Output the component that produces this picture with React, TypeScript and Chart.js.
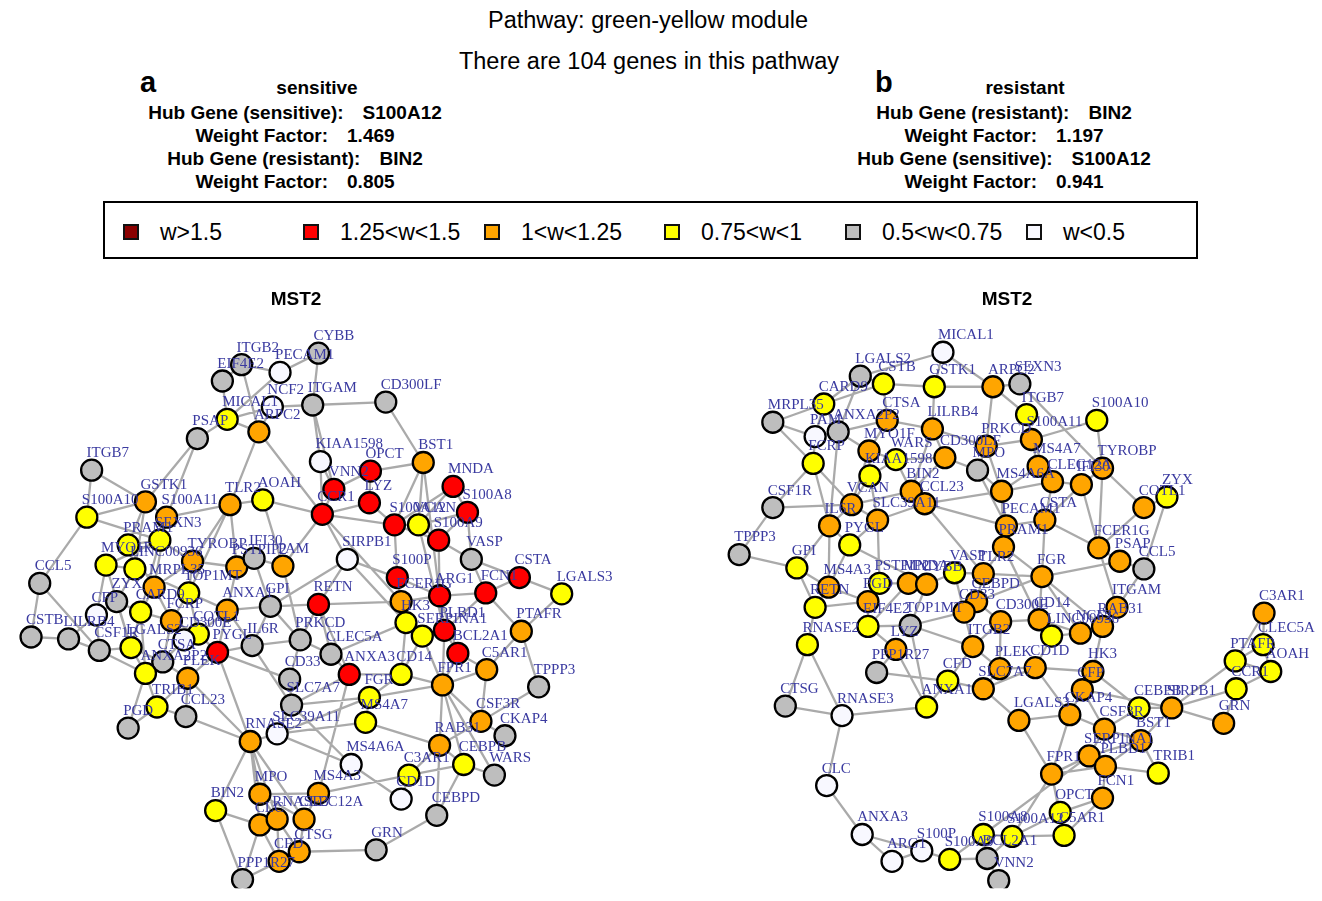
import React, { useEffect, useRef } from "react";
import { Chart, registerables } from "chart.js";

Chart.register(...registerables);

// ---------------- data ----------------
const PAGE_TITLE = "Pathway: green-yellow module";
const PAGE_SUBTITLE = "There are 104 genes in this pathway";
const NETWORK_TITLE = "MST2";

const LEGEND_LABELS = ["w>1.5", "1.25<w<1.5", "1<w<1.25", "0.75<w<1", "0.5<w<0.75", "w<0.5"];
// weight class -> colour (0: w>1.5 ... 5: w<0.5)
const CLASS_COLORS = ["#8B0000", "#FF0000", "#FFA500", "#FFFF00", "#BEBEBE", "#F8F8FF"];

const PANEL_A_TITLE = "sensitive";
const PANEL_A_INFO: [string, string][] = [
  ["Hub Gene (sensitive):", "S100A12"],
  ["Weight Factor:", "1.469"],
  ["Hub Gene (resistant):", "BIN2"],
  ["Weight Factor:", "0.805"],
];
const PANEL_B_TITLE = "resistant";
const PANEL_B_INFO: [string, string][] = [
  ["Hub Gene (resistant):", "BIN2"],
  ["Weight Factor:", "1.197"],
  ["Hub Gene (sensitive):", "S100A12"],
  ["Weight Factor:", "0.941"],
];

type GeneNode = [string, number, number, number]; // name, layout x, layout y, weight class
type GeneEdge = [string, string];

// layout coordinates of the sensitive network
const SENSITIVE_NODES: GeneNode[] = [
  ["CYBB", 318, 343, 4], ["ITGB2", 238, 355, 4], ["PECAM1", 278, 363, 5], ["EIF4E2", 218, 372, 4],
  ["NCF2", 270, 399, 5], ["ITGAM", 312, 397, 4], ["MICAL1", 223, 412, 3], ["ARPC2", 256, 425, 2],
  ["PSAP", 192, 432, 4], ["CD300LF", 388, 394, 4], ["KIAA1598", 320, 456, 5], ["BST1", 427, 457, 2],
  ["OPCT", 372, 466, 1], ["VNN2", 334, 485, 1], ["MNDA", 458, 482, 1], ["LYZ", 371, 499, 1],
  ["CCR1", 322, 511, 1], ["S100A8", 473, 509, 1], ["S100A12", 397, 522, 1], ["VCAN", 422, 522, 3],
  ["S100A9", 443, 538, 1], ["SIRPB1", 348, 558, 5], ["VASP", 477, 558, 4], ["S100P", 400, 577, 1],
  ["CSTA", 527, 577, 1], ["LGALS3", 571, 594, 3], ["FCN1", 492, 593, 1], ["ARG1", 444, 596, 1],
  ["FCER1G", 404, 602, 2], ["RETN", 318, 605, 1], ["ITGB7", 82, 465, 4], ["GSTK1", 138, 498, 2],
  ["S100A10", 77, 514, 3], ["S100A11", 160, 514, 2], ["TLR2", 226, 501, 2], ["AOAH", 260, 496, 3],
  ["SEXN3", 153, 538, 3], ["PRAM1", 120, 543, 3], ["MYO1F", 97, 564, 3], ["LINC00936", 127, 568, 3],
  ["TYROBP", 187, 560, 2], ["PSTPIP2", 233, 566, 2], ["IFI30", 251, 557, 4], ["PAM", 281, 565, 2],
  ["MRPL35", 147, 587, 2], ["TOP1MT", 183, 593, 3], ["CCL5", 28, 583, 4], ["ZYX", 108, 602, 4],
  ["CFP", 87, 616, 5], ["CARD9", 133, 613, 3], ["FCRP", 165, 622, 2], ["ANXA1", 223, 611, 2],
  ["GPI", 268, 607, 4], ["COTL1", 193, 636, 3], ["CD300E", 178, 642, 5], ["CSTB", 19, 639, 4],
  ["LILRB4", 58, 641, 4], ["CSF1R", 90, 653, 4], ["LGALS2", 123, 650, 3], ["CTSA", 156, 665, 4],
  ["ANXA2P2", 138, 677, 3], ["PYGL", 213, 655, 1], ["IL6R", 249, 648, 4], ["PRKCD", 299, 642, 4],
  ["PLEK", 182, 682, 2], ["CD33", 288, 683, 4], ["SLC7A7", 290, 710, 4], ["TRIB1", 150, 712, 3],
  ["CCL23", 180, 722, 4], ["PGD", 120, 734, 4], ["SLC39A11", 275, 740, 5], ["RNASE2", 247, 748, 2],
  ["MPO", 257, 803, 2], ["BIN2", 211, 820, 3], ["CLC", 257, 835, 2], ["RNASE3", 275, 829, 2],
  ["CLEC12A", 303, 829, 2], ["CTSG", 298, 863, 2], ["CFD", 277, 873, 2], ["PPP1R27", 239, 892, 4],
  ["MS4A3", 318, 802, 2], ["CD1D", 404, 808, 5], ["GRN", 378, 861, 4], ["CEBPD", 441, 825, 4],
  ["C3AR1", 412, 783, 3], ["MS4A6A", 352, 772, 5], ["CEBPB", 469, 772, 3], ["WARS", 501, 783, 4],
  ["RAB31", 444, 752, 2], ["CKAP4", 512, 742, 4], ["CSF3R", 487, 727, 2], ["MS4A7", 367, 728, 3],
  ["FGR", 371, 702, 3], ["ANXA3", 350, 678, 1], ["CD14", 404, 678, 3], ["FPR1", 447, 689, 2],
  ["C5AR1", 493, 673, 2], ["TPPP3", 547, 691, 4], ["BCL2A1", 463, 656, 1], ["PTAFR", 529, 633, 2],
  ["CLEC5A", 331, 657, 4], ["HK3", 409, 624, 3], ["SERPINA1", 426, 638, 3], ["PLBD1", 449, 632, 1],
];

const SENSITIVE_EDGES: GeneEdge[] = [
  ["CYBB", "PECAM1"], ["CYBB", "ITGAM"], ["ITGB2", "EIF4E2"], ["ITGB2", "PECAM1"], ["ITGB2", "ARPC2"],
  ["EIF4E2", "MICAL1"], ["PECAM1", "MICAL1"], ["NCF2", "ITGAM"], ["NCF2", "MICAL1"], ["NCF2", "ARPC2"],
  ["MICAL1", "PSAP"], ["MICAL1", "ARPC2"], ["ITGAM", "CD300LF"], ["ITGAM", "KIAA1598"], ["ITGAM", "VNN2"],
  ["ARPC2", "TLR2"], ["ARPC2", "CCR1"], ["PSAP", "GSTK1"], ["PSAP", "S100A11"], ["CD300LF", "BST1"], ["KIAA1598", "CCR1"],
  ["ITGB7", "S100A10"], ["ITGB7", "GSTK1"], ["S100A10", "GSTK1"], ["S100A10", "SEXN3"], ["S100A10", "CCL5"],
  ["GSTK1", "S100A11"], ["GSTK1", "PRAM1"], ["GSTK1", "LINC00936"], ["S100A11", "SEXN3"], ["S100A11", "TLR2"], ["S100A11", "MRPL35"],
  ["TLR2", "AOAH"], ["TLR2", "TYROBP"], ["TLR2", "PSTPIP2"], ["TLR2", "TOP1MT"], ["AOAH", "CCR1"], ["AOAH", "PAM"],
  ["SEXN3", "PRAM1"], ["SEXN3", "TYROBP"], ["SEXN3", "MYO1F"], ["SEXN3", "CARD9"], ["PRAM1", "LINC00936"], ["PRAM1", "MRPL35"],
  ["MYO1F", "LINC00936"], ["MYO1F", "CFP"], ["MYO1F", "LGALS2"], ["LINC00936", "TOP1MT"], ["LINC00936", "ZYX"],
  ["TYROBP", "PSTPIP2"], ["TYROBP", "TOP1MT"], ["TYROBP", "MRPL35"], ["PSTPIP2", "IFI30"], ["PSTPIP2", "ANXA1"],
  ["IFI30", "PAM"], ["IFI30", "GPI"], ["PAM", "CCR1"], ["PAM", "PRKCD"], ["MRPL35", "CARD9"], ["MRPL35", "FCRP"],
  ["TOP1MT", "ANXA1"], ["TOP1MT", "FCRP"], ["TOP1MT", "COTL1"], ["CCL5", "CSTB"], ["CCL5", "CSF1R"],
  ["ZYX", "CARD9"], ["ZYX", "CFP"], ["ZYX", "LGALS2"], ["CFP", "LILRB4"], ["CFP", "CSF1R"], ["CARD9", "LGALS2"],
  ["CARD9", "FCRP"], ["CARD9", "ANXA2P2"], ["FCRP", "COTL1"], ["FCRP", "CD300E"], ["FCRP", "CTSA"],
  ["ANXA1", "GPI"], ["ANXA1", "COTL1"], ["ANXA1", "PYGL"], ["ANXA1", "IL6R"], ["GPI", "IL6R"], ["GPI", "PRKCD"],
  ["GPI", "SIRPB1"], ["GPI", "RETN"], ["COTL1", "CD300E"], ["COTL1", "PYGL"], ["CD300E", "CTSA"],
  ["CTSA", "ANXA2P2"], ["CTSA", "PLEK"], ["CTSA", "LGALS2"], ["CSTB", "LILRB4"], ["LILRB4", "CSF1R"],
  ["CSF1R", "LGALS2"], ["CSF1R", "ANXA2P2"], ["LGALS2", "ANXA2P2"], ["ANXA2P2", "TRIB1"], ["ANXA2P2", "PGD"],
  ["PLEK", "PYGL"], ["PLEK", "TRIB1"], ["PLEK", "CCL23"], ["PLEK", "RNASE2"], ["PYGL", "IL6R"], ["PYGL", "CD33"],
  ["PYGL", "RNASE2"], ["IL6R", "PRKCD"], ["IL6R", "SLC7A7"], ["PRKCD", "RETN"], ["PRKCD", "CLEC5A"], ["PRKCD", "CD33"],
  ["CD33", "SLC7A7"], ["SLC7A7", "SLC39A11"], ["SLC7A7", "FGR"], ["SLC7A7", "ANXA3"], ["SLC39A11", "RNASE2"],
  ["SLC39A11", "MS4A7"], ["SLC39A11", "MS4A6A"], ["TRIB1", "PGD"], ["TRIB1", "CCL23"], ["CCL23", "RNASE2"],
  ["RNASE2", "MPO"], ["RNASE2", "BIN2"], ["RNASE2", "CLC"], ["RNASE2", "RNASE3"], ["RNASE2", "CLEC12A"],
  ["MPO", "CLEC12A"], ["MPO", "RNASE3"], ["MPO", "MS4A3"], ["BIN2", "CLC"], ["BIN2", "PPP1R27"], ["CLC", "RNASE3"],
  ["CLC", "CFD"], ["CLC", "PPP1R27"], ["RNASE3", "CTSG"], ["RNASE3", "CFD"], ["CLEC12A", "CTSG"], ["CLEC12A", "MS4A3"],
  ["CTSG", "CFD"], ["CTSG", "GRN"], ["CFD", "PPP1R27"], ["MS4A3", "C3AR1"], ["MS4A3", "ANXA3"], ["MS4A6A", "CD1D"],
  ["MS4A6A", "SLC7A7"], ["CD1D", "C3AR1"], ["C3AR1", "RAB31"], ["C3AR1", "CEBPB"], ["GRN", "CEBPD"], ["CEBPD", "RAB31"],
  ["CEBPD", "CEBPB"], ["RAB31", "MS4A7"], ["RAB31", "FPR1"], ["RAB31", "CEBPB"], ["RAB31", "CSF3R"], ["CEBPB", "WARS"],
  ["CEBPB", "FPR1"], ["WARS", "FPR1"], ["TPPP3", "CSF3R"], ["CKAP4", "CSF3R"], ["CSF3R", "C5AR1"], ["CSF3R", "FPR1"],
  ["MS4A7", "FGR"], ["FGR", "FPR1"], ["FGR", "CD14"], ["FGR", "SLC39A11"], ["ANXA3", "CD14"], ["ANXA3", "RETN"],
  ["ANXA3", "CLEC5A"], ["CD14", "FPR1"], ["CD14", "SERPINA1"], ["CD14", "HK3"], ["FPR1", "BCL2A1"], ["FPR1", "C5AR1"],
  ["FPR1", "PLBD1"], ["FPR1", "SERPINA1"], ["C5AR1", "PTAFR"], ["C5AR1", "BCL2A1"], ["PTAFR", "TPPP3"], ["PTAFR", "FCN1"],
  ["PTAFR", "LGALS3"], ["BCL2A1", "PLBD1"], ["PLBD1", "SERPINA1"], ["PLBD1", "ARG1"], ["PLBD1", "FCN1"], ["SERPINA1", "HK3"],
  ["HK3", "FCER1G"], ["HK3", "CLEC5A"], ["HK3", "SIRPB1"], ["FCER1G", "S100P"], ["FCER1G", "ARG1"], ["FCER1G", "RETN"],
  ["RETN", "CLEC5A"], ["RETN", "SIRPB1"], ["OPCT", "VNN2"], ["OPCT", "LYZ"], ["OPCT", "BST1"], ["VNN2", "CCR1"],
  ["VNN2", "KIAA1598"], ["LYZ", "S100A12"], ["LYZ", "CCR1"], ["CCR1", "S100A12"], ["CCR1", "SIRPB1"], ["CCR1", "FCER1G"],
  ["BST1", "S100A12"], ["BST1", "VCAN"], ["BST1", "ARG1"], ["MNDA", "VCAN"], ["MNDA", "S100A12"], ["MNDA", "S100A8"],
  ["S100A8", "VCAN"], ["S100A8", "S100A9"], ["S100A8", "VASP"], ["S100A12", "VCAN"], ["S100A12", "S100P"], ["S100A12", "S100A9"],
  ["VCAN", "S100A9"], ["VCAN", "PLBD1"], ["S100A9", "ARG1"], ["S100A9", "VASP"], ["VASP", "FCN1"], ["VASP", "CSTA"],
  ["S100P", "SIRPB1"], ["S100P", "ARG1"], ["ARG1", "FCN1"], ["ARG1", "BCL2A1"], ["FCN1", "CSTA"], ["CSTA", "LGALS3"],
];

// layout coordinates of the resistant network
const RESISTANT_NODES: GeneNode[] = [
  ["MICAL1", 941, 342, 5], ["LGALS2", 855, 367, 4], ["CSTB", 879, 375, 3], ["GSTK1", 932, 378, 3],
  ["ARPC2", 993, 378, 2], ["SEXN3", 1021, 375, 4], ["CARD9", 817, 396, 3], ["MRPL35", 764, 415, 4],
  ["CTSA", 883, 413, 2], ["ANXA2P2", 832, 425, 4], ["PAM", 808, 430, 5], ["LILRB4", 930, 422, 2],
  ["ITGB7", 1028, 407, 3], ["S100A10", 1101, 413, 3], ["PRKCD", 986, 440, 2], ["S100A11", 1033, 433, 2],
  ["MYO1F", 864, 445, 2], ["WARS", 892, 454, 3], ["CD300LF", 943, 452, 2], ["MPO", 977, 465, 4],
  ["FCRP", 806, 458, 3], ["KIAA1598", 865, 471, 3], ["MS4A7", 1040, 461, 2], ["TYROBP", 1107, 463, 2],
  ["CLEC12A", 1055, 477, 2], ["IFI30", 1085, 480, 2], ["MS4A6A", 1002, 487, 2], ["ZYX", 1174, 493, 3],
  ["COTL1", 1150, 504, 2], ["BIN2", 908, 487, 2], ["CCL23", 922, 500, 2], ["CSF1R", 764, 504, 4],
  ["VCAN", 846, 501, 2], ["SLC39A11", 873, 517, 2], ["IL6R", 823, 523, 2], ["PECAM1", 1007, 523, 2],
  ["CSTA", 1047, 517, 2], ["PRAM1", 1004, 545, 2], ["PYGL", 844, 543, 3], ["TPPP3", 729, 553, 4],
  ["GPI", 789, 567, 3], ["FCER1G", 1103, 546, 2], ["PSAP", 1125, 560, 2], ["CCL5", 1150, 568, 4],
  ["FGR", 1044, 576, 2], ["TLR2", 983, 573, 2], ["VASP", 953, 572, 3], ["PSTPIP2", 875, 583, 3],
  ["MNDA", 905, 583, 2], ["CYBB", 924, 584, 2], ["MS4A3", 822, 587, 2], ["RETN", 808, 608, 3],
  ["PGD", 863, 602, 2], ["EIF4E2", 863, 628, 3], ["TOP1MT", 907, 627, 4], ["LYZ", 892, 652, 2],
  ["PPP1R27", 872, 676, 4], ["CEBPD", 976, 602, 2], ["CD33", 963, 613, 2], ["CD300E", 1001, 623, 2],
  ["CD14", 1041, 621, 2], ["LINC00936", 1054, 638, 3], ["NCF2", 1084, 635, 2], ["RAB31", 1107, 628, 2],
  ["ITGAM", 1122, 608, 2], ["ITGB2", 972, 649, 2], ["PLEK", 1000, 672, 2], ["CD1D", 1037, 671, 2],
  ["CFD", 946, 685, 3], ["SLC7A7", 983, 693, 2], ["ANXA1", 924, 712, 3], ["HK3", 1097, 675, 2],
  ["CFP", 1086, 694, 2], ["LGALS3", 1020, 726, 2], ["CKAP4", 1073, 720, 2], ["CSF3R", 1109, 735, 2],
  ["CEBPB", 1145, 713, 3], ["SIRPB1", 1179, 713, 2], ["GRN", 1233, 729, 2], ["CCR1", 1246, 693, 3],
  ["PTAFR", 1245, 664, 3], ["AOAH", 1282, 675, 3], ["CLEC5A", 1274, 647, 3], ["C3AR1", 1275, 614, 2],
  ["BST1", 1147, 747, 2], ["SERPINA1", 1093, 763, 2], ["PLBD1", 1110, 774, 2], ["TRIB1", 1165, 781, 3],
  ["FPR1", 1054, 782, 2], ["FCN1", 1107, 807, 2], ["OPCT", 1063, 822, 3], ["C5AR1", 1067, 846, 3],
  ["S100A8", 983, 845, 3], ["S100A12", 1013, 847, 3], ["S100A9", 948, 871, 3], ["BCL2A1", 987, 870, 4],
  ["VNN2", 999, 893, 4], ["S100P", 919, 862, 5], ["ARG1", 888, 873, 5], ["ANXA3", 857, 845, 5],
  ["CLC", 820, 794, 5], ["RNASE3", 836, 721, 5], ["CTSG", 777, 711, 4], ["RNASE2", 800, 647, 3],
];

const RESISTANT_EDGES: GeneEdge[] = [
  ["MICAL1", "LGALS2"], ["MICAL1", "ARPC2"], ["MICAL1", "GSTK1"], ["LGALS2", "CSTB"], ["LGALS2", "ANXA2P2"], ["LGALS2", "CARD9"],
  ["CSTB", "GSTK1"], ["CSTB", "CTSA"], ["CSTB", "CARD9"], ["GSTK1", "ARPC2"], ["GSTK1", "LILRB4"], ["ARPC2", "SEXN3"],
  ["ARPC2", "PRKCD"], ["ARPC2", "ITGB7"], ["SEXN3", "TYROBP"], ["ITGB7", "S100A11"], ["S100A10", "S100A11"], ["S100A10", "TYROBP"],
  ["CARD9", "MRPL35"], ["CARD9", "ANXA2P2"], ["CARD9", "PAM"], ["MRPL35", "PAM"], ["MRPL35", "FCRP"], ["PAM", "ANXA2P2"],
  ["PAM", "FCRP"], ["ANXA2P2", "CTSA"], ["ANXA2P2", "MYO1F"], ["ANXA2P2", "IL6R"], ["CTSA", "MYO1F"], ["CTSA", "LILRB4"],
  ["LILRB4", "PRKCD"], ["LILRB4", "CD300LF"], ["LILRB4", "BIN2"], ["PRKCD", "S100A11"], ["PRKCD", "MPO"], ["PRKCD", "MS4A6A"],
  ["S100A11", "MS4A7"], ["S100A11", "CLEC12A"], ["MS4A7", "CLEC12A"], ["MS4A7", "MS4A6A"], ["CLEC12A", "IFI30"],
  ["CLEC12A", "MS4A6A"], ["CLEC12A", "CSTA"], ["IFI30", "TYROBP"], ["IFI30", "CSTA"], ["IFI30", "FCER1G"], ["TYROBP", "COTL1"],
  ["TYROBP", "FCER1G"], ["COTL1", "ZYX"], ["ZYX", "CCL5"], ["COTL1", "FCER1G"], ["FCER1G", "PSAP"], ["FCER1G", "CSTA"],
  ["FCER1G", "ITGAM"], ["PSAP", "CCL5"], ["PSAP", "FGR"], ["CCL5", "ITGAM"], ["MYO1F", "WARS"], ["MYO1F", "KIAA1598"],
  ["MYO1F", "VCAN"], ["WARS", "CD300LF"], ["WARS", "KIAA1598"], ["WARS", "BIN2"], ["CD300LF", "MPO"], ["CD300LF", "BIN2"],
  ["MPO", "MS4A6A"], ["MPO", "PECAM1"], ["FCRP", "CSF1R"], ["FCRP", "IL6R"], ["FCRP", "VCAN"], ["KIAA1598", "VCAN"],
  ["KIAA1598", "SLC39A11"], ["BIN2", "CCL23"], ["BIN2", "VCAN"], ["CCL23", "MS4A6A"], ["CCL23", "SLC39A11"], ["CCL23", "TLR2"],
  ["CCL23", "PECAM1"], ["CSF1R", "VCAN"], ["CSF1R", "TPPP3"], ["VCAN", "IL6R"], ["VCAN", "SLC39A11"], ["SLC39A11", "PYGL"],
  ["SLC39A11", "PSTPIP2"], ["IL6R", "PYGL"], ["IL6R", "GPI"], ["IL6R", "MS4A3"], ["PYGL", "MS4A3"], ["PYGL", "CYBB"],
  ["TPPP3", "GPI"], ["GPI", "MS4A3"], ["GPI", "RETN"], ["PECAM1", "PRAM1"], ["PECAM1", "CSTA"], ["PECAM1", "MS4A6A"],
  ["PRAM1", "TLR2"], ["PRAM1", "FGR"], ["PRAM1", "CD14"], ["CSTA", "FGR"], ["MS4A6A", "PRAM1"], ["FGR", "TLR2"],
  ["FGR", "CD14"], ["FGR", "CEBPD"], ["FGR", "NCF2"], ["FGR", "RAB31"], ["TLR2", "VASP"], ["TLR2", "CEBPD"], ["VASP", "CYBB"],
  ["VASP", "CD33"], ["PSTPIP2", "MNDA"], ["PSTPIP2", "PGD"], ["MNDA", "CYBB"], ["MNDA", "EIF4E2"], ["CYBB", "TOP1MT"],
  ["MS4A3", "RETN"], ["MS4A3", "PGD"], ["RETN", "RNASE2"], ["RETN", "PGD"], ["PGD", "EIF4E2"], ["EIF4E2", "LYZ"],
  ["EIF4E2", "TOP1MT"], ["TOP1MT", "CD33"], ["TOP1MT", "ITGB2"], ["TOP1MT", "ANXA1"], ["LYZ", "PPP1R27"], ["LYZ", "ANXA1"],
  ["PPP1R27", "CFD"], ["CEBPD", "CD33"], ["CEBPD", "CD300E"], ["CD33", "ITGB2"], ["CD300E", "CD14"], ["CD300E", "ITGB2"],
  ["CD300E", "PLEK"], ["CD14", "LINC00936"], ["CD14", "NCF2"], ["LINC00936", "NCF2"], ["LINC00936", "CD1D"], ["NCF2", "RAB31"],
  ["RAB31", "ITGAM"], ["RAB31", "HK3"], ["ITGB2", "PLEK"], ["ITGB2", "CFD"], ["PLEK", "SLC7A7"], ["PLEK", "CD1D"],
  ["CD1D", "HK3"], ["CD1D", "CKAP4"], ["CFD", "SLC7A7"], ["CFD", "ANXA1"], ["SLC7A7", "LGALS3"], ["SLC7A7", "CD1D"],
  ["ANXA1", "RNASE3"], ["HK3", "CFP"], ["HK3", "CEBPB"], ["CFP", "CKAP4"], ["CFP", "CSF3R"], ["CFP", "SIRPB1"],
  ["CKAP4", "LGALS3"], ["CKAP4", "CSF3R"], ["CKAP4", "FPR1"], ["CSF3R", "CEBPB"], ["CSF3R", "SERPINA1"], ["CSF3R", "BST1"],
  ["CEBPB", "SIRPB1"], ["SIRPB1", "BST1"], ["SIRPB1", "GRN"], ["SIRPB1", "PTAFR"], ["SIRPB1", "CCR1"], ["GRN", "CCR1"],
  ["CCR1", "AOAH"], ["PTAFR", "CLEC5A"], ["PTAFR", "C3AR1"], ["PTAFR", "AOAH"], ["CLEC5A", "AOAH"], ["CLEC5A", "C3AR1"],
  ["BST1", "TRIB1"], ["BST1", "PLBD1"], ["BST1", "SERPINA1"], ["SERPINA1", "PLBD1"], ["SERPINA1", "FPR1"], ["PLBD1", "FPR1"],
  ["PLBD1", "TRIB1"], ["PLBD1", "FCN1"], ["FCN1", "OPCT"], ["FCN1", "C5AR1"], ["FPR1", "OPCT"], ["FPR1", "C5AR1"],
  ["OPCT", "S100A12"], ["OPCT", "C5AR1"], ["C5AR1", "S100A12"], ["S100A12", "S100A8"], ["S100A12", "BCL2A1"],
  ["S100A8", "BCL2A1"], ["S100A8", "S100A9"], ["S100A9", "BCL2A1"], ["S100A9", "S100P"], ["BCL2A1", "VNN2"],
  ["S100P", "ARG1"], ["S100P", "ANXA3"], ["ARG1", "ANXA3"], ["ANXA3", "CLC"], ["CLC", "RNASE3"], ["RNASE3", "CTSG"],
  ["RNASE3", "RNASE2"], ["CTSG", "RNASE2"], ["S100A8", "SERPINA1"], ["FPR1", "LGALS3"], ["S100A12", "FPR1"],
];

// ---------------- styles ----------------
const SANS = '"Liberation Sans", Arial, Helvetica, sans-serif';
const SERIF = '"Liberation Serif", "Times New Roman", serif';
const LABEL_COLOR = "#3a3aa0";
const EDGE_COLOR = "rgba(165,165,165,0.95)";

type NetworkProps = { nodes: GeneNode[]; edges: GeneEdge[]; xMin: number; xMax: number; left: number };

function NetworkChart({ nodes, edges, xMin, xMax, left }: NetworkProps) {
  const ref = useRef<HTMLCanvasElement | null>(null);
  useEffect(() => {
    const canvas = ref.current;
    if (!canvas) return;
    const byName = new Map<string, GeneNode>();
    nodes.forEach((n) => byName.set(n[0], n));
    const edgeData: { x: number; y: number }[] = [];
    edges.forEach(([a, b]) => {
      const na = byName.get(a);
      const nb = byName.get(b);
      if (!na || !nb) return;
      edgeData.push({ x: na[1], y: na[2] }, { x: nb[1], y: nb[2] }, { x: NaN, y: NaN });
    });
    const labelPlugin = {
      id: "nodeLabels",
      afterDatasetsDraw(chart: any) {
        const { ctx, scales } = chart;
        ctx.save();
        ctx.font = `15px ${SERIF}`;
        ctx.fillStyle = LABEL_COLOR;
        ctx.textAlign = "left";
        ctx.textBaseline = "middle";
        nodes.forEach((n) => {
          const px = scales.x.getPixelForValue(n[1]);
          const py = scales.y.getPixelForValue(n[2]);
          ctx.fillText(n[0], px - 5, py - 17);
        });
        ctx.restore();
      },
    };
    const chart = new Chart(canvas, {
      type: "scatter",
      data: {
        datasets: [
          {
            type: "scatter",
            label: "genes",
            data: nodes.map((n) => ({ x: n[1], y: n[2] })),
            pointRadius: 10.5,
            pointHoverRadius: 10.5,
            pointBackgroundColor: nodes.map((n) => CLASS_COLORS[n[3]]),
            pointBorderColor: "#000000",
            pointBorderWidth: 2.3,
            order: 0,
          } as any,
          {
            type: "line",
            label: "edges",
            data: edgeData,
            borderColor: EDGE_COLOR,
            borderWidth: 2.3,
            pointRadius: 0,
            pointHoverRadius: 0,
            fill: false,
            spanGaps: false,
            tension: 0,
            order: 1,
          } as any,
        ],
      },
      options: {
        responsive: false,
        animation: false,
        events: [],
        layout: { padding: 0 },
        plugins: { legend: { display: false }, tooltip: { enabled: false }, title: { display: false } },
        scales: {
          x: { type: "linear", min: xMin, max: xMax, display: false },
          y: { type: "linear", min: 280, max: 901, reverse: true, display: false },
        },
      },
      plugins: [labelPlugin],
    });
    return () => chart.destroy();
  }, [nodes, edges, xMin, xMax]);
  return (
    <canvas
      ref={ref}
      width={661}
      height={621}
      style={{ position: "absolute", left, top: 280, width: 661, height: 621 }}
    />
  );
}

function Centered({ x, y, style, children }: { x: number; y: number; style?: React.CSSProperties; children: React.ReactNode }) {
  return (
    <div
      style={{
        position: "absolute",
        left: x,
        top: y,
        transform: "translate(-50%, -50%)",
        whiteSpace: "nowrap",
        lineHeight: 1,
        ...style,
      }}
    >
      {children}
    </div>
  );
}

function InfoBlock({ cx, titleX, title, letter, letterX, info }: { cx: number; titleX: number; title: string; letter: string; letterX: number; info: [string, string][] }) {
  const ys = [112, 135, 158, 181];
  return (
    <>
      <div style={{ position: "absolute", left: letterX, top: 68, fontFamily: SANS, fontWeight: "bold", fontSize: 29, lineHeight: 1 }}>{letter}</div>
      <Centered x={titleX} y={87} style={{ fontFamily: SANS, fontWeight: "bold", fontSize: 19 }}>{title}</Centered>
      {info.map((row, i) => (
        <Centered key={i} x={cx} y={ys[i]} style={{ fontFamily: SANS, fontWeight: "bold", fontSize: 19 }}>
          <span>{row[0]}</span>
          <span style={{ display: "inline-block", width: 19 }} />
          <span>{row[1]}</span>
        </Centered>
      ))}
    </>
  );
}

export default function App() {
  const legendX = [123, 303, 484, 664, 845, 1026];
  return (
    <div
      style={{
        position: "fixed",
        left: 0,
        top: 0,
        width: 1322,
        height: 901,
        background: "#ffffff",
        overflow: "hidden",
        color: "#000",
      }}
    >
      <Centered x={648} y={21} style={{ fontFamily: SANS, fontSize: 23.5 }}>{PAGE_TITLE}</Centered>
      <Centered x={649} y={62} style={{ fontFamily: SANS, fontSize: 23.5 }}>{PAGE_SUBTITLE}</Centered>

      <InfoBlock cx={295} titleX={317} title={PANEL_A_TITLE} letter="a" letterX={140} info={PANEL_A_INFO} />
      <InfoBlock cx={1004} titleX={1025} title={PANEL_B_TITLE} letter="b" letterX={875} info={PANEL_B_INFO} />

      <div
        style={{
          position: "absolute",
          left: 103,
          top: 201,
          width: 1095,
          height: 58,
          border: "2px solid #000",
          boxSizing: "border-box",
        }}
      />
      {LEGEND_LABELS.map((lab, i) => (
        <React.Fragment key={lab}>
          <div
            style={{
              position: "absolute",
              left: legendX[i],
              top: 224,
              width: 16,
              height: 16,
              boxSizing: "border-box",
              border: "2px solid #111",
              background: CLASS_COLORS[i],
            }}
          />
          <div
            style={{
              position: "absolute",
              left: legendX[i] + 37,
              top: 232,
              transform: "translateY(-50%)",
              fontFamily: SANS,
              fontSize: 23,
              lineHeight: 1,
              whiteSpace: "nowrap",
            }}
          >
            {lab}
          </div>
        </React.Fragment>
      ))}

      <NetworkChart nodes={SENSITIVE_NODES} edges={SENSITIVE_EDGES} xMin={0} xMax={661} left={0} />
      <NetworkChart nodes={RESISTANT_NODES} edges={RESISTANT_EDGES} xMin={661} xMax={1322} left={661} />

      <Centered x={296} y={298} style={{ fontFamily: SANS, fontWeight: "bold", fontSize: 19 }}>{NETWORK_TITLE}</Centered>
      <Centered x={1007} y={298} style={{ fontFamily: SANS, fontWeight: "bold", fontSize: 19 }}>{NETWORK_TITLE}</Centered>
    </div>
  );
}
